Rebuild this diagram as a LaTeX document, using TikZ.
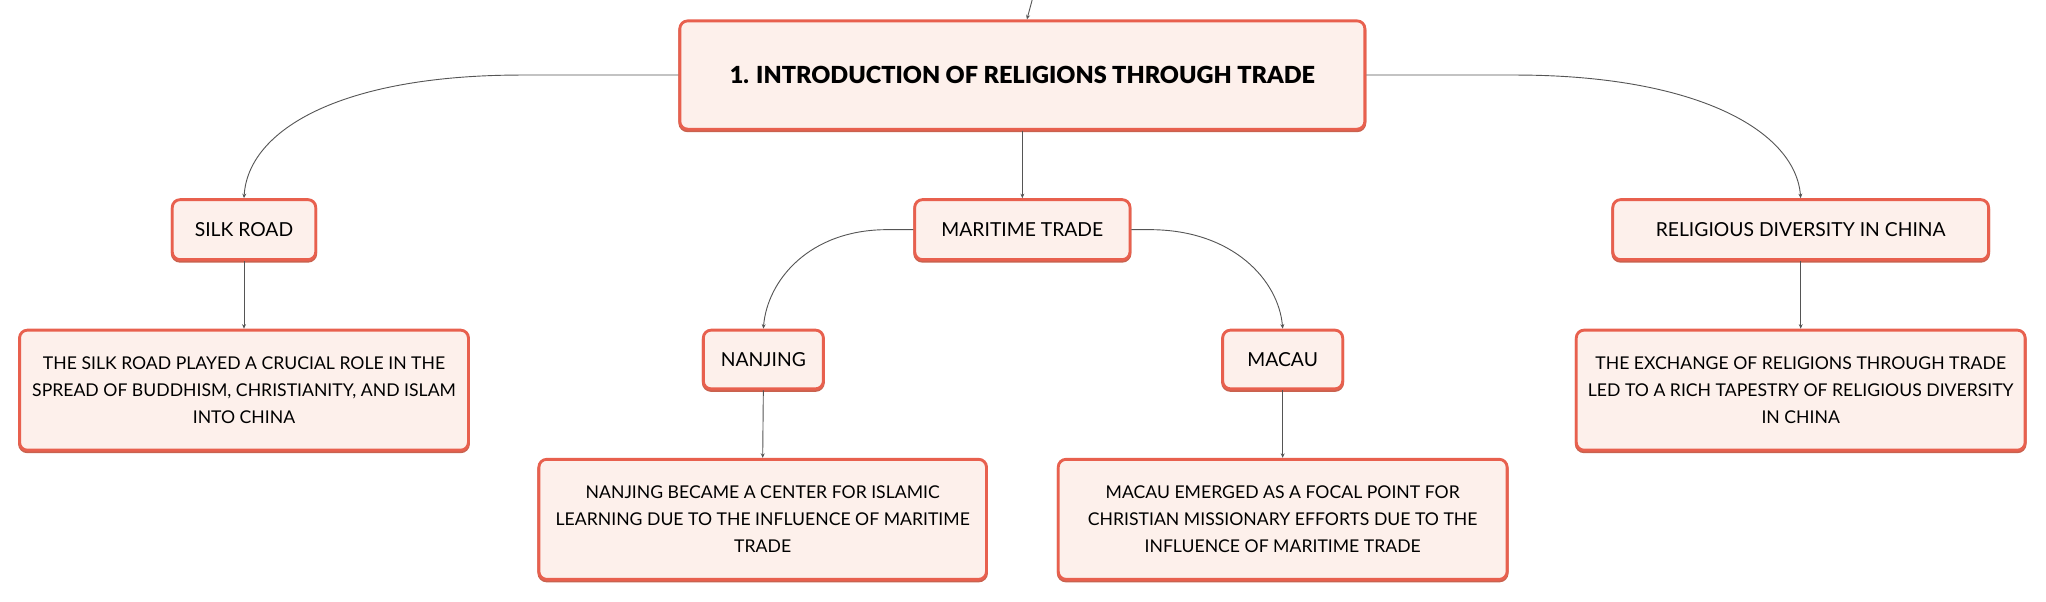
\documentclass[tikz,border=0pt]{standalone}
\usepackage{fontspec}
\setmainfont{Lato}
\IfFontExistsTF{Lato Black}{\newfontfamily\titlefont{Lato Black}}{\newfontfamily\titlefont{Lato}[UprightFeatures={FakeBold=1.5}]}
\usetikzlibrary{arrows.meta,shadows}
\definecolor{bordc}{HTML}{E8604E}
\definecolor{shadc}{HTML}{C9624F}
\definecolor{fillc}{HTML}{FDF0EB}
\definecolor{linec}{HTML}{555555}
\begin{document}
\begin{tikzpicture}[x=1pt,y=-1pt,
  box/.style={draw=bordc, fill=fillc, line width=2.2pt, rounded corners=6pt, align=center, inner sep=0pt,
    general shadow={draw=shadc, line width=2.2pt, fill=shadc, shadow yshift=-1.2pt},
    font=\fontsize{13.5}{20.5}\selectfont},
  lbl/.style={box, font=\fontsize{14.8}{18}\selectfont},
  conn/.style={draw=linec, line width=0.7pt, -{Stealth[length=3.5pt,width=3pt]}},
]
\useasboundingbox (0,0) rectangle (1568,461.35);
\node[box, minimum width=525pt, minimum height=83pt, font=\fontsize{18}{20}\selectfont\titlefont] (main) at (783.5,57.5) {1. INTRODUCTION OF RELIGIONS THROUGH TRADE};
\node[lbl, minimum width=110pt, minimum height=46pt] (silk) at (187,176) {SILK ROAD};
\node[lbl, minimum width=165pt, minimum height=46pt] (mar) at (783.5,176) {MARITIME TRADE};
\node[lbl, minimum width=288pt, minimum height=46pt] (rel) at (1380,176) {RELIGIOUS DIVERSITY IN CHINA};
\node[box, minimum width=344pt, minimum height=92pt] (silkd) at (187,299) {THE SILK ROAD PLAYED A CRUCIAL ROLE IN THE\\SPREAD OF BUDDHISM, CHRISTIANITY, AND ISLAM\\INTO CHINA};
\node[lbl, minimum width=92pt, minimum height=45pt] (nan) at (585,275.5) {NANJING};
\node[lbl, minimum width=92pt, minimum height=45pt] (mac) at (983,275.5) {MACAU};
\node[box, minimum width=343pt, minimum height=92pt] (nand) at (584.5,398) {NANJING BECAME A CENTER FOR ISLAMIC\\LEARNING DUE TO THE INFLUENCE OF MARITIME\\TRADE};
\node[box, minimum width=344pt, minimum height=92pt] (macd) at (983,398) {MACAU EMERGED AS A FOCAL POINT FOR\\CHRISTIAN MISSIONARY EFFORTS DUE TO THE\\INFLUENCE OF MARITIME TRADE};
\node[box, minimum width=344pt, minimum height=92pt] (reld) at (1380,299) {THE EXCHANGE OF RELIGIONS THROUGH TRADE\\LED TO A RICH TAPESTRY OF RELIGIOUS DIVERSITY\\IN CHINA};
\coordinate (top) at (791,0);
\draw[conn] (top) -- (main.north -| 787,0);
\draw[conn] (main.south) -- (mar.north);
\draw[conn] (main.west) -- ++(-120,0) .. controls (260,57.5) and (190,100) .. (silk.north);
\draw[conn] (main.east) -- ++(114,0) .. controls (1300,57.5) and (1376,100) .. (rel.north);
\draw[conn] (mar.west) -- ++(-20,0) .. controls (620,176) and (588,215) .. (nan.north);
\draw[conn] (mar.east) -- ++(14,0) .. controls (945,176) and (980,215) .. (mac.north);
\draw[conn] (silk.south) -- (silkd.north);
\draw[conn] (rel.south) -- (reld.north);
\draw[conn] (nan.south) -- (nand.north);
\draw[conn] (mac.south) -- (macd.north);
\end{tikzpicture}
\end{document}
